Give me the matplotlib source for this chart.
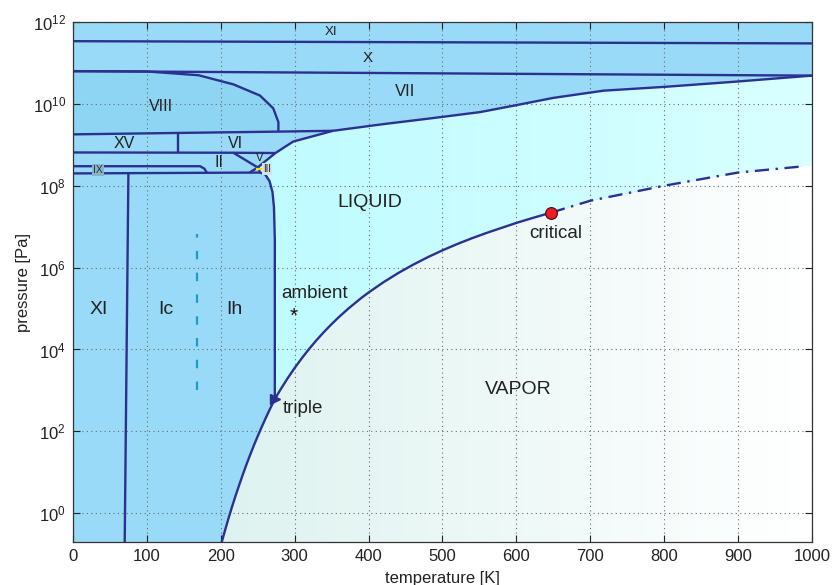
"""Phase diagram of water: ice polymorphs, liquid and vapour on a log-pressure axis."""

import numpy as np
import matplotlib

matplotlib.use("Agg")
import matplotlib.pyplot as plt
from matplotlib.colors import LinearSegmentedColormap, Normalize
from matplotlib.patches import Polygon
from matplotlib.ticker import FixedLocator, NullLocator
from matplotlib.transforms import offset_copy

plt.rcParams["font.family"] = ["Liberation Sans", "DejaVu Sans"]
plt.rcParams["mathtext.fontset"] = "custom"
plt.rcParams["mathtext.rm"] = "Liberation Sans"

# --- phase boundaries: temperature [K], pressure [Pa] ---------------------
# ice XI / ice X and ice X / ice VII
xi_x_T = [0, 1000]
xi_x_P = [3.4e11, 3.0e11]
x_vii_T = [0, 1000]
x_vii_P = [6.3e10, 4.9e10]

# ice VIII upper edge (VII / VIII)
viii_T = [0, 100, 170, 217, 253, 271, 278, 278]
viii_P = [6.3e10, 6.2e10, 5.0e10, 3.0e10, 1.6e10, 7.8e9, 3.6e9, 2.1e9]

# VIII-VII / XV-VI edge
hp_T = [0, 278, 352]
hp_P = [1.8e9, 2.1e9, 2.2e9]

# XV / VI
xv_vi_T = [142, 142]
xv_vi_P = [6.5e8, 1.85e9]

# XV-VI / IX-II-V edge
mid_T = [0, 217, 274]
mid_P = [6.5e8, 6.4e8, 6.3e8]

# II / V and II / III
ii_v_T = [217, 250]
ii_v_P = [6.4e8, 2.8e8]
ii_iii_T = [239, 250]
ii_iii_P = [2.1e8, 2.8e8]

# ice IX pocket
ix_T = [0, 172, 178, 181]
ix_P = [3.0e8, 3.0e8, 2.6e8, 2.1e8]

# top of ice Ih / XI
ih_top_T = [0, 253]
ih_top_P = [2.0e8, 2.1e8]

# ice XI / ice Ic
xi_ic_T = [70, 75]
xi_ic_P = [0.19, 2.0e8]

# Ic / Ih transition (dashed)
ic_ih_T = [168, 168]
ic_ih_P = [1.05e3, 6.6e6]

# melting curve from the triple point up through III, V, VI and VII
liq_T = [273.16, 273.16, 272.0, 270.0, 266.0, 260.0, 253.0, 251.0, 274.0,
         298.0, 352.0, 420.0, 483.0, 551.0, 600.0, 650.0, 718.0, 800.0,
         898.0, 1000.0]
liq_P = [611.657, 5e6, 3e7, 7e7, 1.3e8, 1.9e8, 2.1e8, 2.9e8, 6.3e8,
         1.2e9, 2.2e9, 3.2e9, 4.4e9, 6.3e9, 9.3e9, 1.4e10, 2.1e10, 2.6e10,
         3.5e10, 4.9e10]

# sublimation curve
sub_T = [200, 205, 210, 215, 220, 225, 230, 235, 240, 245, 250, 255, 260,
         265, 270, 273.16]
sub_P = [0.162, 0.34, 0.70, 1.39, 2.65, 4.92, 8.94, 15.9, 27.3, 46.2,
         76.0, 123.0, 195.8, 306.0, 470.0, 611.657]

# vaporisation curve, triple -> critical
vap_T = [273.16, 280, 290, 300, 310, 320, 330, 340, 350, 360, 373.12, 390,
         400, 420, 440, 460, 480, 500, 520, 540, 560, 580, 600, 620, 640,
         647.1]
vap_P = [611.657, 991.8, 1.92e3, 3.537e3, 6.231e3, 1.0546e4, 1.7213e4,
         2.7188e4, 4.1682e4, 6.2194e4, 1.01325e5, 1.802e5, 2.461e5,
         4.372e5, 7.336e5, 1.1703e6, 1.7917e6, 2.6392e6, 3.766e6,
         5.2216e6, 7.0605e6, 9.3442e6, 1.2345e7, 1.5901e7, 2.0265e7,
         2.2064e7]

# supercritical continuation (dash-dot)
sc_T = [647.1, 700, 800, 900, 990]
sc_P = [2.2064e7, 4.3e7, 1.0e8, 2.1e8, 3.0e8]

triple = (273.16, 611.657)
critical = (647.1, 2.2064e7)
ambient = (298.15, 1.01325e5)

# label text, position (T, P), font size
labels = [
    ("XI", 349, 5.6e11, 9.5), ("X", 399, 1.3e11, 11), ("VII", 449, 2.0e10, 12),
    ("VIII", 119, 8.7e9, 11.5), ("XV", 70, 1.07e9, 11.5), ("VI", 220, 1.07e9, 11.5),
    ("II", 198, 3.6e8, 11.5), ("V", 252, 4.8e8, 8),
    ("LIQUID", 402, 3.8e7, 14), ("VAPOR", 602, 1.05e3, 14),
    ("XI", 35, 9.5e4, 14), ("Ic", 126, 9.5e4, 14), ("Ih", 219, 9.5e4, 14),
    ("ambient", 327, 2.3e5, 13.5),
]

TMAX = 1000
PMIN, PMAX = 0.195, 1e12
LINE = "#2b3190"
ICE = "#98daf7"

fig = plt.figure(figsize=(8.34, 5.85), dpi=100)
ax = fig.add_axes([0.0875, 0.073, 0.886, 0.8894])
ax.set_yscale("log")
ax.set_xlim(0, TMAX)
ax.set_ylim(PMIN, PMAX)
ax.set_facecolor(ICE)


def gradient_fill(verts, c0, c1, t0, t1):
    patch = Polygon(verts, closed=True, transform=ax.transData,
                    facecolor="none", edgecolor="none")
    ax.add_patch(patch)
    cmap = LinearSegmentedColormap.from_list("g", [c0, c1])
    tx = np.linspace(0, TMAX, 201)
    tc = 0.5 * (tx[:-1] + tx[1:])
    mesh = ax.pcolormesh(tx, [PMIN, PMAX], tc[None, :], cmap=cmap,
                         norm=Normalize(t0, t1), shading="flat", zorder=0.5)
    mesh.set_clip_path(patch)


# ice VIII is a shade darker than the other ices
viii_poly = list(zip(viii_T, viii_P)) + [(hp_T[1], hp_P[1]), (hp_T[0], hp_P[0])]
ax.add_patch(Polygon(viii_poly, closed=True, facecolor="#8dd5f3",
                     edgecolor="none", zorder=0.4))

liq_poly = (list(zip(liq_T, liq_P)) + [(TMAX, sc_P[-1])]
            + list(zip(sc_T, sc_P))[::-1] + list(zip(vap_T, vap_P))[::-1])
gradient_fill(liq_poly, "#bffbff", "#d9ffff", 270, 1000)

vap_poly = (list(zip(sub_T, sub_P)) + list(zip(vap_T, vap_P))[1:]
            + list(zip(sc_T, sc_P))[1:] + [(TMAX, sc_P[-1]), (TMAX, PMIN),
                                            (sub_T[0], PMIN)])
gradient_fill(vap_poly, "#ddf2ef", "#ffffff", 200, 1000)

# grid above the fills, boundaries above the grid
ax.set_axisbelow(False)
ax.grid(True, ls=(0, (1, 3)), color="#6b6b6b", lw=0.8, zorder=1)

kw = dict(color=LINE, lw=1.7, zorder=3, solid_capstyle="butt")
for t, p in [(xi_x_T, xi_x_P), (x_vii_T, x_vii_P), (viii_T, viii_P),
             (hp_T, hp_P), (xv_vi_T, xv_vi_P), (mid_T, mid_P),
             (ii_v_T, ii_v_P), (ii_iii_T, ii_iii_P), (ix_T, ix_P),
             (ih_top_T, ih_top_P), (xi_ic_T, xi_ic_P), (liq_T, liq_P),
             (sub_T, sub_P), (vap_T, vap_P)]:
    ax.plot(t, p, **kw)

ax.plot(sc_T, sc_P, color=LINE, lw=1.7, zorder=3,
        dashes=(6.0, 2.8, 1.0, 2.8))
ax.plot(ic_ih_T, ic_ih_P, color="#1c9ccb", lw=1.6, zorder=3,
        dashes=(3.8, 6.0))

# tiny ice III field
ax.plot([249, 254], [2.6e8, 2.6e8], color="#f2e400", lw=1.6, zorder=3.5)

ax.plot(*triple, marker=">", ms=7.5, color=LINE, mec=LINE, zorder=4)
ax.plot(*critical, marker="o", ms=8.5, color="#ee1c24", mec="#3a1010",
        mew=0.8, zorder=4)

txt = "#222222"
for s, t, p, fs in labels:
    ax.text(t, p, s, fontsize=fs, color=txt, ha="center", va="center", zorder=5)

ax.text(262.5, 2.6e8, "III", fontsize=7, color=txt, ha="center", va="center",
        zorder=5, bbox=dict(boxstyle="square,pad=0.1", fc="#d6e1e7", ec="none"))
ax.text(34, 2.45e8, "IX", fontsize=7.5, color="#26323a", ha="center",
        va="center", zorder=5,
        bbox=dict(boxstyle="square,pad=0.08", fc="#8bb3c8", ec="none"))
# the asterisk glyph sits high in its box, so shift it down onto the point
star_tr = offset_copy(ax.transData, fig=fig, x=0, y=-8, units="dots")
ax.text(ambient[0], ambient[1], "*", fontsize=15, color="#111111",
        ha="center", va="center", zorder=5, transform=star_tr)
ax.text(284, 3.6e2, "triple", fontsize=13.5, color=txt, ha="left",
        va="center", zorder=5)
ax.text(653, 7.0e6, "critical", fontsize=13.5, color=txt, ha="center",
        va="center", zorder=5)

ax.set_xticks(np.arange(0, 1001, 100))
ax.yaxis.set_major_locator(FixedLocator([10.0 ** k for k in range(0, 13, 2)]))
ax.yaxis.set_minor_locator(NullLocator())
ax.set_yticklabels([r"$\mathregular{10^{%d}}$" % k for k in range(0, 13, 2)])
ax.tick_params(direction="in", top=True, right=True, length=5, width=0.8,
               labelsize=12, colors="#222222", pad=5)
for sp in ax.spines.values():
    sp.set_color("#333333")
    sp.set_linewidth(0.9)
    sp.set_zorder(6)

ax.set_xlabel("temperature [K]", fontsize=12, color="#222222", labelpad=5)
ax.set_ylabel("pressure [Pa]", fontsize=12, color="#222222", labelpad=1)

fig.savefig("out.png", dpi=100)
